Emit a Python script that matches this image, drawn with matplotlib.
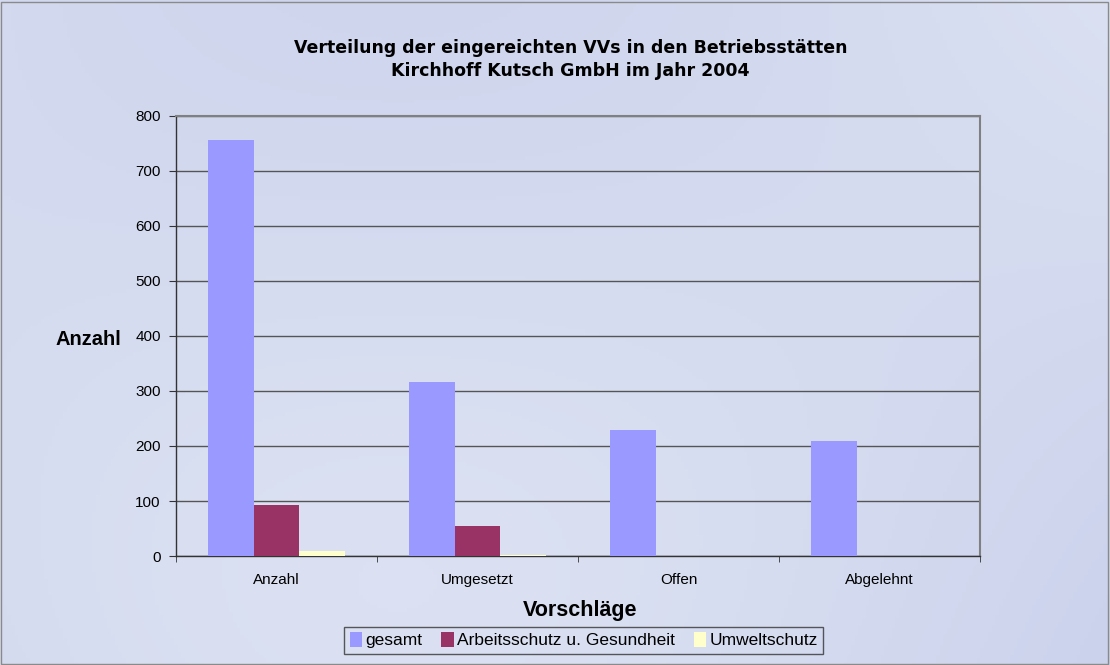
import matplotlib
matplotlib.use("Agg")
import matplotlib.pyplot as plt
import numpy as np
from matplotlib.patches import Rectangle
from matplotlib.colors import LinearSegmentedColormap

categories = ["Anzahl", "Umgesetzt", "Offen", "Abgelehnt"]
series_names = ["gesamt", "Arbeitsschutz u. Gesundheit", "Umweltschutz"]
gesamt = [756, 317, 229, 209]
arbeitsschutz = [93, 55, 0, 0]
umweltschutz = [9, 2, 0, 0]
colors = ["#9999ff", "#993366", "#ffffcc"]
yticks = [0, 100, 200, 300, 400, 500, 600, 700, 800]

plt.rcParams['font.family'] = ['Liberation Sans', 'DejaVu Sans']

fig = plt.figure(figsize=(11.1, 6.65), dpi=100)
fig.patch.set_facecolor("#d2daef")

# soft background gradient
bg = fig.add_axes([0, 0, 1, 1], zorder=-10)
yy, xx = np.mgrid[0:1:200j, 0:1:300j]
grad = 0.5 + 0.2 * np.sin(xx * 3.0 + 0.5) * np.cos(yy * 2.5) + 0.15 * yy
cmap = LinearSegmentedColormap.from_list("bg", ["#cbd2ec", "#d3daef", "#dbe1f2"])
bg.imshow(grad, cmap=cmap, aspect="auto", extent=[0, 1, 0, 1], origin="lower")
bg.set_axis_off()
bg.add_patch(Rectangle((0.001, 0.002), 0.997, 0.995, fill=False, edgecolor="#8a8a8a", lw=1.0,
                       transform=bg.transAxes))

ax = fig.add_axes([0.1586, 0.1639, 0.7244, 0.6617])
ax.set_facecolor("none")

n = len(categories)
x = np.arange(n)
w = 0.228
data = [gesamt, arbeitsschutz, umweltschutz]
for i, (vals, c, name) in enumerate(zip(data, colors, series_names)):
    ax.bar(x + (i - 1) * w, vals, width=w, color=c, label=name, zorder=3, linewidth=0)

ax.set_xlim(-0.5, n - 0.5)
ax.set_ylim(0, 800)
ax.set_yticks(yticks)
ax.set_yticklabels([str(t) for t in yticks], fontsize=11)
ax.set_xticks(x)
ax.set_xticklabels(categories, fontsize=11)
ax.tick_params(axis='x', which='major', length=0, pad=12)
ax.set_xticks(np.arange(-0.5, n, 1.0), minor=True)
ax.tick_params(axis='x', which='minor', length=4, direction='out', color='#333333')
ax.tick_params(axis='y', length=5, direction='out', color='#333333', pad=6)

ax.yaxis.grid(True, color="#555555", linewidth=1.0, zorder=1)
ax.set_axisbelow(True)
for s in ["left", "bottom"]:
    ax.spines[s].set_color("#333333")
    ax.spines[s].set_linewidth(1.0)
for s in ["top", "right"]:
    ax.spines[s].set_color("#808080")
    ax.spines[s].set_linewidth(1.5)

fig.text(0.514, 0.91, "Verteilung der eingereichten VVs in den Betriebsstätten\nKirchhoff Kutsch GmbH im Jahr 2004",
         ha="center", va="center", fontsize=12.5, fontweight="bold", linespacing=1.35,
         family=['DejaVu Sans'])
fig.text(0.0795, 0.49, "Anzahl", ha="center", va="center", fontsize=14.5, fontweight="bold")
fig.text(0.5225, 0.082, "Vorschläge", ha="center", va="center", fontsize=15.5, fontweight="bold")

leg = fig.legend(loc="center", bbox_to_anchor=(0.526, 0.037), ncol=3, fontsize=12.5,
                 frameon=True, fancybox=False, handlelength=0.7, handleheight=0.9,
                 handletextpad=0.2, columnspacing=1.1, borderpad=0.3, edgecolor="#333333")
leg.get_frame().set_facecolor("none")
leg.get_frame().set_linewidth(1.0)

fig.savefig("out.png", dpi=100)
